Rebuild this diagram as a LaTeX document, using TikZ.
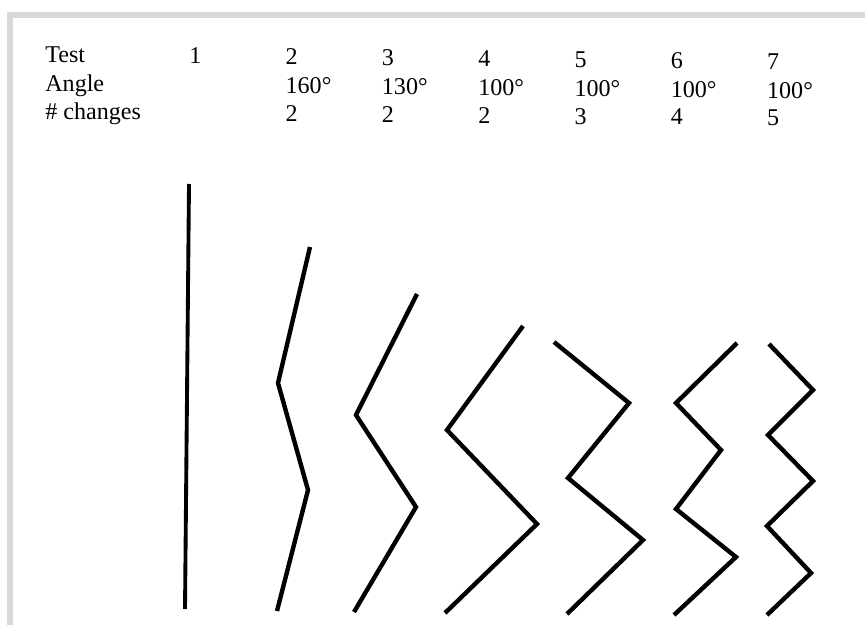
\documentclass[tikz,border=0pt]{standalone}
\usepackage{fontspec}
\setmainfont{Liberation Serif}
\usepackage{tikz}

\begin{document}
\begin{tikzpicture}[x=0.02cm, y=-0.02cm,
    txt/.style={anchor=base west, inner sep=0pt, font=\fontsize{13.7}{16}\selectfont},
    zigzag/.style={line width=2.5pt, black, line join=miter},
    marco/.style={line width=0.12cm, black!15}]

  \useasboundingbox (0,0) rectangle (865,625);

  % Marco gris (arriba e izquierda)
  \draw[marco] (10,625) -- (10,15) -- (865,15);

  % Encabezados de las filas
  \node[txt] (test) at (45,62.5) {Test};
  \node[txt] (angle) at (45,91.5) {Angle};
  \node[txt] (changes) at (45,119) {\# changes};

  % Columnas de los tests
  \node[txt] (t1) at (189,63.8) {1};
  \foreach \n/\ang/\ch in {2/160/2, 3/130/2, 4/100/2, 5/100/3, 6/100/4, 7/100/5} {
    \pgfmathsetmacro\xx{189+96.3*(\n-1)}
    \pgfmathsetmacro\yy{62.5+0.0095*(\xx-46)}
    \node[txt] (t\n) at (\xx,\yy) {\n};
    \node[txt] (a\n) at (\xx,\yy+28.8) {\ang°};
    \node[txt] (c\n) at (\xx,\yy+56.5) {\ch};
  }

  % Lineas en zigzag
  \draw[zigzag, line width=2.2pt] (189,184) -- (185,609);
  \draw[zigzag] (310,247) -- (278,383) -- (308,490) -- (277,611);
  \draw[zigzag] (417,294) -- (356,415) -- (416,507) -- (354,612);
  \draw[zigzag] (523,326) -- (447,430) -- (537,524) -- (445,613);
  \draw[zigzag] (554,342) -- (629,403) -- (568,478) -- (643,540) -- (567,614);
  \draw[zigzag] (737,343) -- (676,403) -- (721,450) -- (676,509) -- (736,557) -- (674,615);
  \draw[zigzag] (769,344) -- (813,390) -- (768,435) -- (813,481) -- (767,526) -- (811,573) -- (767,615);

\end{tikzpicture}
\end{document}
